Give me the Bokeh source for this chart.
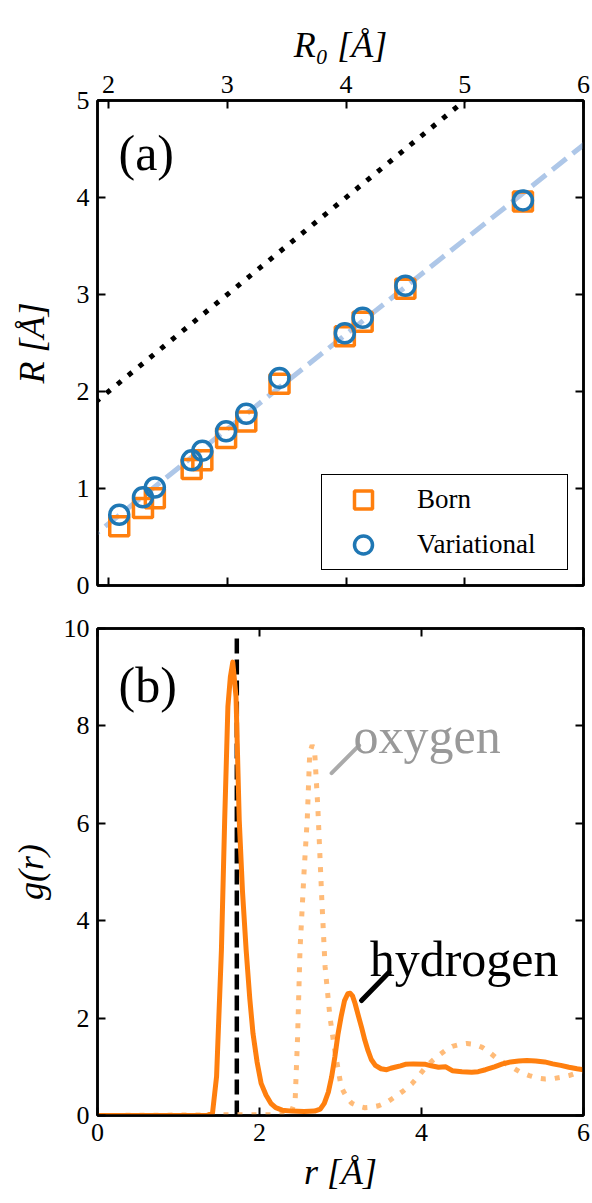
import numpy as np
from bokeh.plotting import figure
from bokeh.models import Range1d, LinearAxis, FixedTicker, Label
from bokeh.layouts import column
from bokeh.embed import file_html
from bokeh.resources import INLINE

# ---------------- data: panel (a) ----------------
r0_points = [2.09, 2.29, 2.39, 2.70, 2.79, 2.99, 3.16, 3.44, 3.99, 4.14, 4.50, 5.49]
R_born = [0.61, 0.80, 0.90, 1.20, 1.29, 1.52, 1.69, 2.08, 2.57, 2.72, 3.06, 3.96]
R_variational = [0.73, 0.91, 1.01, 1.29, 1.39, 1.59, 1.77, 2.14, 2.60, 2.76, 3.09, 3.97]
r0_identity = [1.8, 5.0]
R_identity = [1.8, 5.0]
r0_fit = [1.8, 6.1]
R_fit = [0.442, 4.64]
a_xticks = [2, 3, 4, 5, 6]
a_yticks = [0, 1, 2, 3, 4, 5]

# ---------------- data: panel (b) ----------------
r_h = [0.0, 1.35, 1.42, 1.47, 1.53, 1.57, 1.61, 1.64, 1.67, 1.71, 1.75, 1.79, 1.835, 1.88,
       1.92, 1.97, 2.02, 2.08, 2.14, 2.20, 2.28, 2.40, 2.55, 2.68, 2.75, 2.80, 2.85, 2.89,
       2.93, 2.97, 3.01, 3.05, 3.09, 3.12, 3.15, 3.18, 3.22, 3.26, 3.30, 3.34, 3.38, 3.43,
       3.50, 3.57, 3.62, 3.67, 3.74, 3.80, 3.90, 4.05, 4.12, 4.21, 4.30, 4.38, 4.50, 4.62,
       4.70, 4.79, 4.90, 5.0, 5.1, 5.2, 5.3, 5.41, 5.52, 5.62, 5.72, 5.82, 5.92, 6.0]
g_h = [0.0, 0.0, 0.05, 0.8, 3.4, 6.06, 8.4, 9.0, 9.31, 8.6, 6.06, 4.6, 3.4, 2.4,
       1.68, 1.1, 0.66, 0.42, 0.25, 0.16, 0.11, 0.09, 0.08, 0.09, 0.13, 0.25, 0.48, 0.79,
       1.2, 1.68, 2.05, 2.36, 2.50, 2.51, 2.45, 2.30, 2.05, 1.81, 1.55, 1.33, 1.15, 1.03,
       0.96, 0.94, 0.97, 0.99, 1.02, 1.05, 1.06, 1.05, 1.02, 0.99, 1.0, 0.92, 0.9, 0.89,
       0.9, 0.94, 1.0, 1.06, 1.1, 1.12, 1.13, 1.12, 1.1, 1.06, 1.03, 0.99, 0.96, 0.94]
r_o = [0.0, 2.38, 2.44, 2.47, 2.50, 2.55, 2.59, 2.62, 2.65, 2.68, 2.72, 2.77, 2.81, 2.87,
       2.93, 3.01, 3.08, 3.14, 3.22, 3.30, 3.38, 3.47, 3.57, 3.67, 3.78, 3.88, 3.97, 4.05,
       4.13, 4.21, 4.30, 4.38, 4.47, 4.56, 4.66, 4.75, 4.83, 4.91, 5.01, 5.12, 5.22, 5.33,
       5.43, 5.53, 5.64, 5.74, 5.82, 5.89, 6.0]
g_o = [0.0, 0.02, 0.3, 1.6, 3.4, 5.0, 6.1, 7.45, 7.6, 7.5, 6.33, 4.41, 3.05, 2.02,
       1.33, 0.58, 0.36, 0.25, 0.19, 0.16, 0.17, 0.2, 0.27, 0.38, 0.51, 0.65, 0.82, 0.99,
       1.12, 1.23, 1.34, 1.42, 1.46, 1.48, 1.46, 1.40, 1.31, 1.2, 1.09, 0.99, 0.89, 0.82,
       0.77, 0.75, 0.76, 0.79, 0.82, 0.86, 0.92]
r_cut = [1.72, 1.72]
g_cut = [0.0, 9.85]
oxy_pointer_r = [2.89, 3.23]
oxy_pointer_g = [7.03, 7.60]
hyd_pointer_r = [3.26, 3.60]
hyd_pointer_g = [2.36, 2.94]
b_xticks = [0, 2, 4, 6]
b_yticks = [0, 2, 4, 6, 8, 10]

FONT = "Liberation Serif"
AX_FONT = "'Liberation Serif', serif"


def style_axis(ax, ticks, labels=True):
    ax.ticker = FixedTicker(ticks=ticks)
    ax.major_tick_in = 8
    ax.major_tick_out = 0
    ax.minor_tick_line_color = None
    ax.major_tick_line_width = 2
    ax.major_tick_line_color = "black"
    ax.axis_line_width = 2.5
    ax.axis_line_color = "black"
    ax.major_label_text_font = AX_FONT
    ax.major_label_text_color = "black"
    ax.major_label_text_font_size = "26px"
    ax.major_label_standoff = 8
    ax.axis_label_text_font = AX_FONT
    ax.axis_label_text_font_size = "36px"
    ax.axis_label_text_font_style = "italic"
    ax.axis_label_text_color = "black"
    if not labels:
        ax.major_label_overrides = {t: "" for t in ticks}
        ax.major_label_text_font_size = "1px"
        ax.major_label_standoff = 0


# ================= panel (a) =================
p1 = figure(width=592, height=607, x_range=Range1d(1.907, 6.0), y_range=Range1d(0, 5),
            x_axis_location="above", output_backend="svg", toolbar_location=None,
            min_border_left=97, min_border_right=9, min_border_top=100, min_border_bottom=22)
p1.grid.visible = False
p1.outline_line_color = "black"
p1.outline_line_width = 2.5
style_axis(p1.xaxis[0], a_xticks)
style_axis(p1.yaxis[0], a_yticks)
p1.xaxis[0].axis_label = "R\u2080 [\u00c5]"
p1.xaxis[0].axis_label_standoff = 8
p1.yaxis[0].axis_label = "R [\u00c5]"
p1.yaxis[0].axis_label_standoff = 22
ax_b = LinearAxis()
style_axis(ax_b, a_xticks, labels=False)
p1.add_layout(ax_b, "below")
ax_r = LinearAxis()
style_axis(ax_r, a_yticks, labels=False)
p1.add_layout(ax_r, "right")

p1.line(r0_identity, R_identity, line_color="black", line_width=5, line_dash="5 9")
p1.line(r0_fit, R_fit, line_color="#aec7e8", line_width=5, line_dash="18 8")
p1.scatter(r0_points, R_born, marker="square", size=19, fill_color=None,
           line_color="#ff7f0e", line_width=3.5, legend_label="Born")
p1.scatter(r0_points, R_variational, marker="circle", size=19, fill_color=None,
           line_color="#1f77b4", line_width=3.5, legend_label="Variational")

lg = p1.legend[0]
lg.location = "bottom_right"
lg.margin = 15
lg.padding = 2
lg.spacing = 0
lg.glyph_height = 45
lg.glyph_width = 78
lg.label_height = 45
lg.label_standoff = 15
lg.label_width = 148
lg.label_text_font = FONT
lg.label_text_font_size = "27px"
lg.label_text_color = "black"
lg.border_line_color = "black"
lg.border_line_width = 1.6
lg.border_line_alpha = 1.0
lg.background_fill_alpha = 1.0

p1.add_layout(Label(x=2.084, y=4.46, text="(a)", text_font=FONT, text_font_size="50px",
                    text_color="black", text_baseline="middle"))

# ================= panel (b) =================
p2 = figure(width=592, height=596, x_range=Range1d(0, 6), y_range=Range1d(0, 10),
            output_backend="svg", toolbar_location=None,
            min_border_left=97, min_border_right=9, min_border_top=21, min_border_bottom=88)
p2.grid.visible = False
p2.outline_line_color = "black"
p2.outline_line_width = 2.5
style_axis(p2.xaxis[0], b_xticks)
style_axis(p2.yaxis[0], b_yticks)
p2.xaxis[0].axis_label = "r [\u00c5]"
p2.xaxis[0].axis_label_standoff = 8
p2.yaxis[0].axis_label = "g(r)"
p2.yaxis[0].axis_label_standoff = 10
ax_t2 = LinearAxis()
style_axis(ax_t2, b_xticks, labels=False)
p2.add_layout(ax_t2, "above")
ax_r2 = LinearAxis()
style_axis(ax_r2, b_yticks, labels=False)
p2.add_layout(ax_r2, "right")

p2.line(r_cut, g_cut, line_color="black", line_width=4.5, line_dash="15 6")
p2.line(r_o, g_o, line_color="#ffbb78", line_width=5, line_dash="5 9")
p2.line(r_h, g_h, line_color="#ff7f0e", line_width=5, line_join="round")
p2.line(oxy_pointer_r, oxy_pointer_g, line_color="#aaaaaa", line_width=4, line_cap="round")
p2.line(hyd_pointer_r, hyd_pointer_g, line_color="black", line_width=5, line_cap="round")

p2.add_layout(Label(x=3.16, y=7.80, text="oxygen", text_font=FONT, text_font_size="50px",
                    text_color="#999999", text_baseline="alphabetic"))
p2.add_layout(Label(x=3.36, y=3.22, text="hydrogen", text_font=FONT, text_font_size="50px",
                    text_color="black", text_baseline="alphabetic"))
p2.add_layout(Label(x=0.26, y=8.85, text="(b)", text_font=FONT, text_font_size="50px",
                    text_color="black", text_baseline="middle"))

layout = column(p1, p2, spacing=0)
open("out.html", "w").write(file_html(layout, INLINE))
